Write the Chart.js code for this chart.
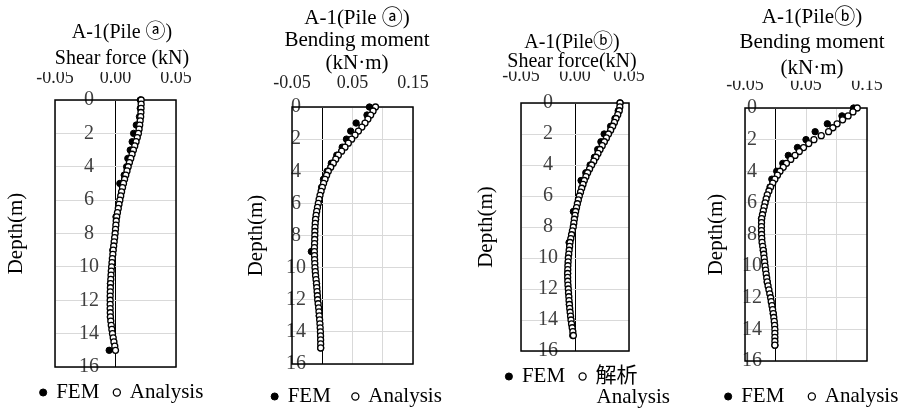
<!DOCTYPE html>
<html lang="en">
<head>
<meta charset="UTF-8">
<title>A-1 Pile shear force and bending moment</title>
<script src="https://cdn.jsdelivr.net/npm/chart.js@4"></script>
<style>
  html, body { margin: 0; padding: 0; background: #fff; overflow: hidden; }
  #wrap { position: relative; width: 901px; height: 410px; overflow: hidden; }
  .panel { position: absolute; top: 0; }
</style>
</head>
<body>
<div id="wrap">
  <div class="panel" style="left:0px"><canvas id="c1" width="240" height="420"></canvas></div>
  <div class="panel" style="left:230px"><canvas id="c2" width="240" height="420"></canvas></div>
  <div class="panel" style="left:458px"><canvas id="c3" width="212" height="420"></canvas></div>
  <div class="panel" style="left:680px"><canvas id="c4" width="260" height="420"></canvas></div>
</div>
<script>
// depth of analysis points (m)
const depth = [0, 0.25, 0.5, 0.75, 1, 1.25, 1.5, 1.75, 2, 2.25, 2.5, 2.75, 3, 3.25, 3.5, 3.75,
  4, 4.25, 4.5, 4.75, 5, 5.25, 5.5, 5.75, 6, 6.25, 6.5, 6.75, 7, 7.25, 7.5, 7.75,
  8, 8.25, 8.5, 8.75, 9, 9.25, 9.5, 9.75, 10, 10.25, 10.5, 10.75, 11, 11.25, 11.5, 11.75,
  12, 12.25, 12.5, 12.75, 13, 13.25, 13.5, 13.75, 14, 14.25, 14.5, 14.75, 15];
// depth of FEM points (m)
const femDepth = [0, 0.5, 1, 1.5, 2, 2.5, 3, 3.5, 4, 4.5, 5, 7, 9, 11, 13, 15];

// Pile a, shear force (kN)
const shearA_fem = [0.0205, 0.0205, 0.0198, 0.0172, 0.0150, 0.0138, 0.0122, 0.0102, 0.0092, 0.0072, 0.0036,
  0.0004, -0.0022, -0.0042, -0.0042, -0.0052];
const shearA_ana = [0.0212, 0.0212, 0.0211, 0.0210, 0.0208, 0.0204, 0.0200, 0.0195, 0.0189, 0.0180, 0.0170,
  0.0159, 0.0148, 0.0137, 0.0126, 0.0115, 0.0105, 0.0095, 0.0085, 0.0075, 0.0066, 0.0058, 0.0050, 0.0043,
  0.0036, 0.0029, 0.0023, 0.0016, 0.0010, 0.0006, 0.0003, 0.0000, -0.0003, -0.0007, -0.0011, -0.0015,
  -0.0019, -0.0022, -0.0026, -0.0029, -0.0032, -0.0035, -0.0037, -0.0039, -0.0041, -0.0042, -0.0043,
  -0.0044, -0.0044, -0.0044, -0.0044, -0.0043, -0.0042, -0.0039, -0.0035, -0.0030, -0.0025, -0.0019,
  -0.0013, -0.0006, 0.0000];

// Pile a, bending moment (kN·m)
const momentA_fem = [0.078, 0.074, 0.056, 0.047, 0.040, 0.033, 0.024, 0.015, 0.008, 0.002, -0.001,
  -0.011, -0.018, -0.0095, -0.005, -0.0026];
const momentA_ana = [0.0880, 0.0840, 0.0800, 0.0755, 0.0707, 0.0655, 0.0598, 0.0542, 0.0486, 0.0431,
  0.0376, 0.0320, 0.0266, 0.0223, 0.0183, 0.0140, 0.0100, 0.0072, 0.0046, 0.0022, 0.0001, -0.0019,
  -0.0037, -0.0052, -0.0065, -0.0079, -0.0092, -0.0102, -0.0110, -0.0116, -0.0120, -0.0122, -0.0123,
  -0.0125, -0.0127, -0.0129, -0.0130, -0.0128, -0.0126, -0.0123, -0.0120, -0.0115, -0.0110, -0.0102,
  -0.0095, -0.0090, -0.0085, -0.0080, -0.0076, -0.0068, -0.0060, -0.0054, -0.0048, -0.0043, -0.0038,
  -0.0034, -0.0030, -0.0028, -0.0027, -0.0026, -0.0026];

// Pile b, shear force (kN)
const shearB_fem = [0.0417, 0.040, 0.037, 0.033, 0.027, 0.024, 0.021, 0.018, 0.014, 0.010, 0.0056,
  -0.0015, -0.0055, -0.0068, -0.0052, -0.0021];
const shearB_ana = [0.0417, 0.0415, 0.0410, 0.0396, 0.0380, 0.0365, 0.0349, 0.0330, 0.0310, 0.0291,
  0.0272, 0.0252, 0.0232, 0.0213, 0.0194, 0.0174, 0.0154, 0.0135, 0.0117, 0.0101, 0.0086, 0.0074,
  0.0062, 0.0051, 0.0040, 0.0031, 0.0022, 0.0014, 0.0006, 0.0000, -0.0006, -0.0011, -0.0016, -0.0024,
  -0.0032, -0.0039, -0.0046, -0.0050, -0.0054, -0.0058, -0.0062, -0.0064, -0.0066, -0.0067, -0.0068,
  -0.0068, -0.0067, -0.0065, -0.0062, -0.0060, -0.0057, -0.0055, -0.0052, -0.0049, -0.0045, -0.0041,
  -0.0037, -0.0032, -0.0026, -0.0020, -0.0015];

// Pile b, bending moment (kN·m)
const momentB_fem = [0.128, 0.109, 0.085, 0.065, 0.050, 0.036, 0.021, 0.012, 0.002, -0.006, -0.009,
  -0.023, -0.020, -0.0135, -0.0036, -0.001];
const momentB_ana = [0.1340, 0.1270, 0.1190, 0.1100, 0.1010, 0.0940, 0.0870, 0.0750, 0.0630, 0.0545,
  0.0460, 0.0390, 0.0320, 0.0250, 0.0180, 0.0127, 0.0074, 0.0032, -0.0010, -0.0045, -0.0080, -0.0108,
  -0.0135, -0.0153, -0.0170, -0.0185, -0.0200, -0.0214, -0.0227, -0.0229, -0.0230, -0.0230, -0.0228,
  -0.0225, -0.0220, -0.0210, -0.0200, -0.0192, -0.0185, -0.0178, -0.0170, -0.0162, -0.0153, -0.0144,
  -0.0135, -0.0122, -0.0108, -0.0094, -0.0080, -0.0070, -0.0058, -0.0047, -0.0036, -0.0028, -0.0020,
  -0.0014, -0.0010, -0.0010, -0.0010, -0.0010, -0.0010];

// tick labels shown on the x axes
const shearTicks = ['-0.05', '0.00', '0.05'];
const momentTicks = ['-0.05', '0.05', '0.15'];

const SERIF = "'Liberation Serif', 'DejaVu Serif', 'Noto Sans CJK JP', serif";

// black frame round the plot area
const plotBox = {
  id: 'plotBox',
  beforeDatasetsDraw(chart) {
    const a = chart.chartArea;
    const ctx = chart.ctx;
    ctx.save();
    ctx.strokeStyle = '#000';
    ctx.lineWidth = 1.5;
    ctx.strokeRect(a.left, a.top, a.right - a.left, a.bottom - a.top);
    ctx.restore();
  }
};

function makePanel(id, p) {
  const femPts = femDepth.map((d, i) => ({ x: p.fem[i], y: d }));
  const anaPts = depth.map((d, i) => ({ x: p.ana[i], y: d }));

  new Chart(document.getElementById(id), {
    type: 'scatter',
    data: {
      datasets: [{
        label: 'FEM',
        data: femPts,
        backgroundColor: '#000',
        borderColor: '#000',
        borderWidth: 1,
        pointRadius: 3.2,
        order: 1,
        clip: false
      }, {
        label: p.anaLabel,
        data: anaPts,
        backgroundColor: '#fff',
        borderColor: '#000',
        borderWidth: 1.3,
        pointRadius: 3,
        order: 0,
        clip: false
      }]
    },
    options: {
      responsive: false,
      animation: false,
      devicePixelRatio: 1,
      layout: { padding: p.pad },
      scales: {
        x: {
          type: 'linear',
          position: 'top',
          min: p.min,
          max: p.max,
          grid: {
            drawTicks: false,
            // the zero line is the black depth axis
            color: c => (c.tick && Math.abs(c.tick.value) < 1e-9 ? '#000' : '#d9d9d9')
          },
          border: { display: false },
          ticks: {
            stepSize: 0.05,
            autoSkip: false,
            maxRotation: 0,
            padding: p.tickPad,
            color: '#222',
            font: { family: SERIF, size: 18 },
            callback: v => {
              const s = (Math.round(v * 100) / 100).toFixed(2);
              return p.ticks.includes(s) ? s : '';
            }
          },
          afterFit: s => { s.height = p.xh; }
        },
        y: {
          type: 'linear',
          position: 'left',
          min: 0,
          max: 16,
          reverse: true,
          grid: { color: '#d9d9d9', drawTicks: false },
          border: { display: false },
          ticks: {
            stepSize: 2,
            mirror: true,
            crossAlign: 'center',
            padding: p.yPad,
            color: '#404040',
            font: { family: SERIF, size: 20 }
          },
          afterFit: s => { s.width = 0; }
        },
        yd: {
          type: 'linear',
          position: 'left',
          weight: 1,
          min: 0,
          max: 16,
          grid: { display: false },
          border: { display: false },
          ticks: { display: false },
          title: {
            display: true,
            text: 'Depth(m)',
            color: '#000',
            padding: { top: p.depthPad, bottom: 0 },
            font: { family: SERIF, size: 21, lineHeight: 1.2 }
          },
          afterFit: s => { s.width = p.wl; }
        },
        yr: {
          type: 'linear',
          position: 'right',
          grid: { display: false },
          border: { display: false },
          ticks: { display: false },
          afterFit: s => { s.width = p.wr; }
        }
      },
      plugins: {
        title: {
          display: true,
          text: p.title,
          color: '#000',
          padding: { top: 0, bottom: 0 },
          font: { family: SERIF, size: p.titleSize, weight: 'normal', lineHeight: p.titleLh }
        },
        subtitle: {
          display: !!p.sub,
          text: p.sub || '',
          position: 'bottom',
          align: 'end',
          color: '#000',
          padding: { top: -12, bottom: 0 },
          font: { family: SERIF, size: 21, lineHeight: 1.2 }
        },
        legend: {
          position: 'bottom',
          labels: {
            usePointStyle: true,
            pointStyle: 'circle',
            boxWidth: 5,
            boxHeight: 5,
            padding: p.legPad,
            color: '#000',
            font: { family: SERIF, size: 21 },
            sort: (a, b) => a.datasetIndex - b.datasetIndex
          }
        },
        tooltip: { enabled: false }
      }
    },
    plugins: [plotBox]
  });
}

makePanel('c1', {
  title: ['A-1(Pile \u24d0)', 'Shear force (kN)'], titleSize: 20, titleLh: '26px',
  fem: shearA_fem, ana: shearA_ana, anaLabel: 'Analysis',
  min: -0.05, max: 0.05, ticks: shearTicks,
  pad: { left: 4, right: 0, top: 20, bottom: 7 }, wl: 51, wr: 64, xh: 28, tickPad: 11, legPad: 15,
  yPad: 24, depthPad: 0
});
makePanel('c2', {
  title: ['A-1(Pile \u24d0)', 'Bending moment', '(kN\u00b7m)'], titleSize: 21, titleLh: '22.5px',
  fem: momentA_fem, ana: momentA_ana, anaLabel: 'Analysis',
  min: -0.05, max: 0.15, ticks: momentTicks,
  pad: { left: 14, right: 0, top: 7, bottom: 3 }, wl: 48, wr: 57, xh: 32.5, tickPad: 13, legPad: 22,
  yPad: -6, depthPad: 0
});
makePanel('c3', {
  title: ['A-1(Pile\u24d1)', 'Shear force(kN)'], titleSize: 20, titleLh: '19px',
  fem: shearB_fem, ana: shearB_ana, anaLabel: '解析', sub: 'Analysis',
  min: -0.05, max: 0.05, ticks: shearTicks,
  pad: { left: 16, right: 0, top: 33.5, bottom: 9.8 }, wl: 47, wr: 41, xh: 31.5, tickPad: 16, legPad: 15,
  yPad: 17, depthPad: 0
});
makePanel('c4', {
  title: ['A-1(Pile\u24d1)', 'Bending moment', '(kN\u00b7m)'], titleSize: 21, titleLh: '25.5px',
  fem: momentB_fem, ana: momentB_ana, anaLabel: 'Analysis',
  min: -0.05, max: 0.15, ticks: momentTicks,
  pad: { left: 4, right: 0, top: 4.25, bottom: 3 }, wl: 61, wr: 73, xh: 27.25, tickPad: 12, legPad: 25,
  yPad: -3, depthPad: 20
});
</script>
</body>
</html>
